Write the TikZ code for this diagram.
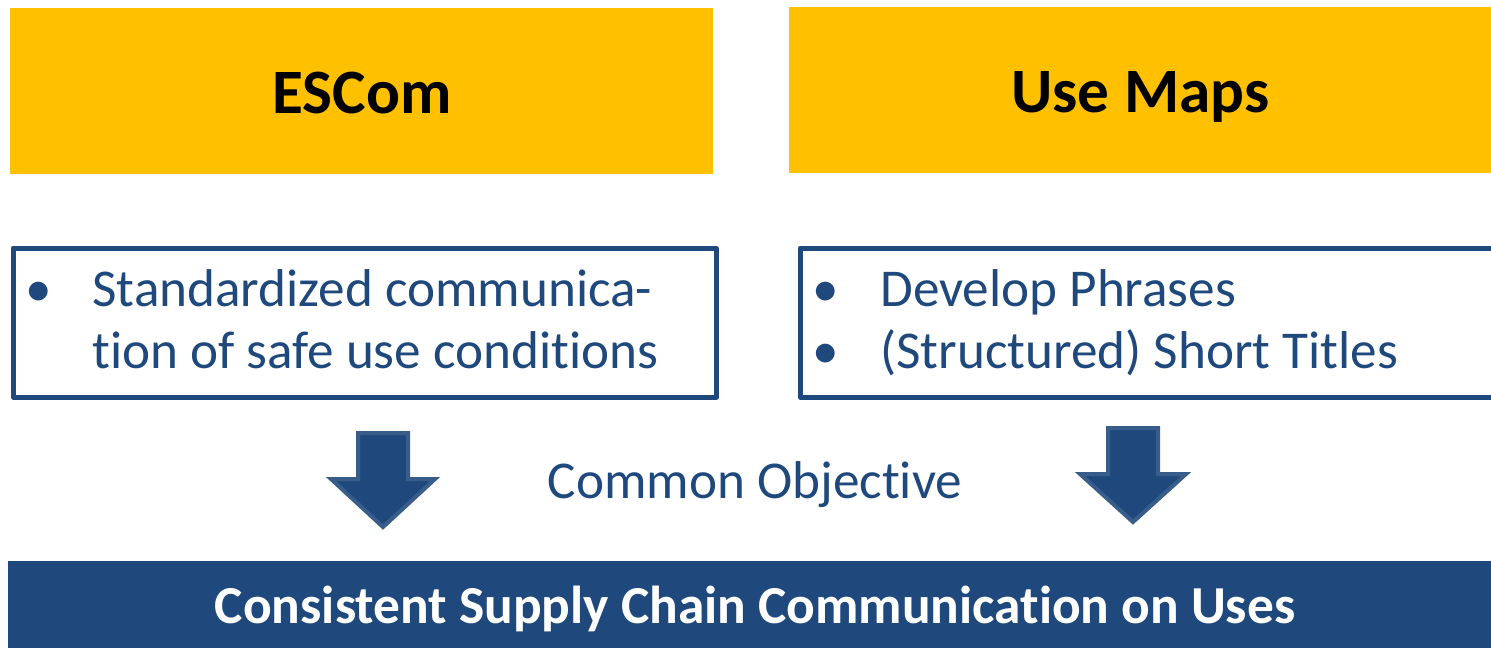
\documentclass[tikz,border=0pt]{standalone}
\usepackage{fontspec}
\setmainfont[RawFeature=-liga]{Carlito}
\usepackage{xcolor}
\definecolor{gold}{HTML}{FFC000}
\definecolor{navy}{HTML}{1F497D}
\definecolor{arrowline}{HTML}{385D8A}
\tikzset{
	headbox/.style={
			fill=gold, draw=none, anchor=north west, inner sep=0pt,
			text height=22pt, text depth=0pt, font=\fontsize{31.6}{34}\selectfont\bfseries
		},
	listbox/.style={
			draw=navy, line width=2.5pt, line join=round, fill=white,
			anchor=north west, inner sep=0pt
		},
	item/.style={
			anchor=base west, inner sep=0pt, text=navy,
			font=\fontsize{26.6}{31}\selectfont
		},
	dot/.style={
			anchor=base, inner sep=0pt, text=navy,
			font=\fontsize{26.6}{31}\selectfont
		},
	blockarrow/.style={
			fill=navy, draw=arrowline, line width=2pt, line join=miter
		}
}

\begin{document}
\begin{tikzpicture}[x=0.5pt,y=-0.5pt]
            \useasboundingbox (0,0) rectangle (1491,647);
            % top labels
            \node[headbox, minimum width=351.5pt, minimum height=83pt] (escom) at (10,8) {ESCom};
            \node[headbox, minimum width=351pt, minimum height=83pt] (usemaps) at (789,7) {Use Maps};
            % framed lists
            \node[listbox, minimum width=351.5pt, minimum height=74.5pt] (leftlist) at (10.5,245.5) {};
            \node[listbox, minimum width=360pt, minimum height=74.5pt] (rightlist) at (797.5,245.5) {};
            \node[dot] (bl1) at (39,306) {•};
            \node[item] (sl1) at (92,306) {Standardized communica-};
            \node[item] (sl2) at (92,368) {tion of safe use conditions};
            \node[dot] (br1) at (826,306) {•};
            \node[dot] (br2) at (826,368) {•};
            \node[item] (sr1) at (880,306) {Develop Phrases};
            \node[item] (sr2) at (880,368) {(Structured) Short Titles};
            % arrows and objective
            \coordinate (tipleft) at (383,527);
            \coordinate (tipright) at (1133,522);
            \filldraw[blockarrow] (tipleft) -- ++(-52,-48) -- ++(27,0) -- ++(0,-46) -- ++(50,0) -- ++(0,46) -- ++(27,0) -- cycle;
            \filldraw[blockarrow] (tipright) -- ++(-53,-48) -- ++(28,0) -- ++(0,-46) -- ++(50,0) -- ++(0,46) -- ++(28,0) -- cycle;
            \node[item, anchor=base] (objective) at (755,498) {Common Objective};
            % bottom bar
            \fill[navy] (8,561) rectangle (1500,660);
            \node[anchor=base, inner sep=0pt, text=white, font=\fontsize{26.7}{29}\selectfont\bfseries] (supply) at (755,623) {Consistent Supply Chain Communication on Uses};
        \end{tikzpicture}
\end{document}
